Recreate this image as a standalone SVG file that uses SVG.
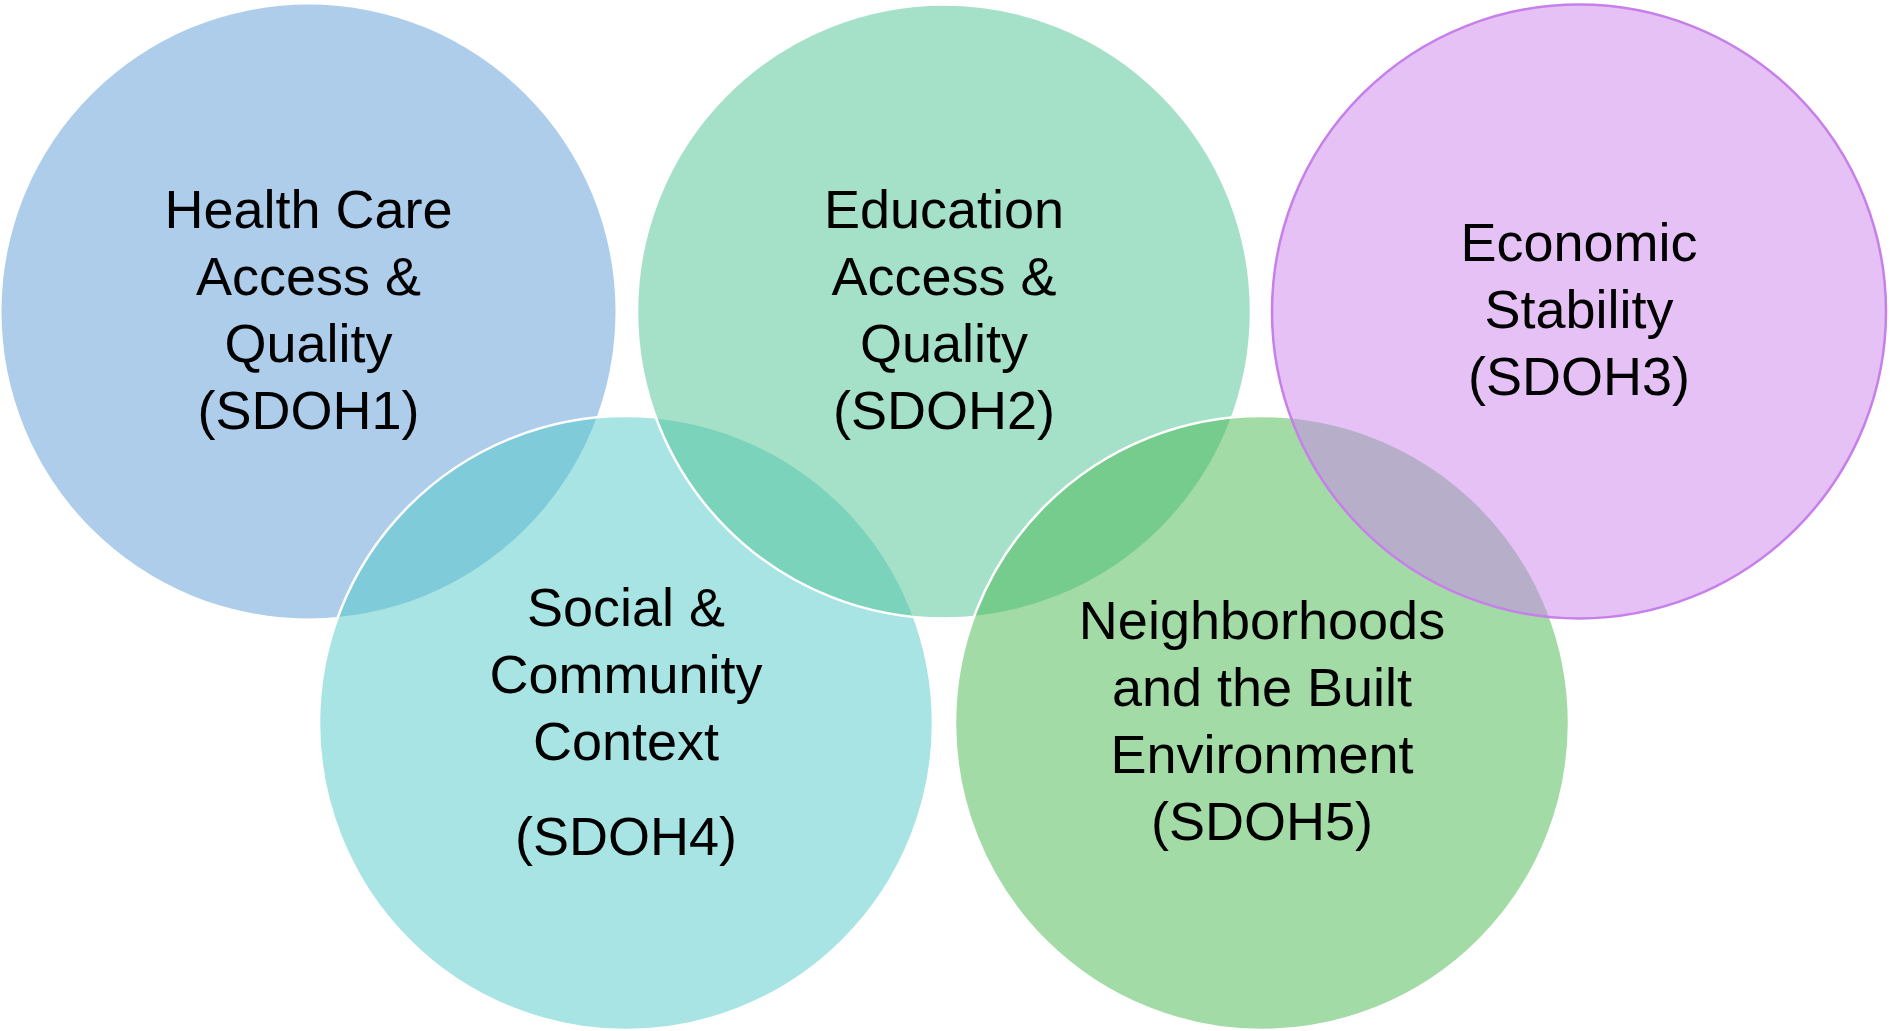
<svg xmlns="http://www.w3.org/2000/svg" width="1890" height="1031" viewBox="0 0 1890 1031">
<style>
.c{fill-opacity:0.5;stroke:#ffffff;stroke-width:2.5}
.c1{fill-opacity:0.5;stroke:none}
.c3{fill-opacity:0.5;stroke:#C77FEA;stroke-width:2.5}
.t{font-family:"Liberation Sans",Arial,sans-serif;font-size:54px;fill:#000000;text-anchor:middle}
</style>
<rect width="1890" height="1031" fill="#ffffff"/>
<g id="sdoh1">
<circle class="c1" cx="308.5" cy="311.5" r="307" fill="#5B9BD5"/>
<text class="t" x="308.5" y="228">Health Care</text>
<text class="t" x="308.5" y="295">Access &amp;</text>
<text class="t" x="308.5" y="362">Quality</text>
<text class="t" x="308.5" y="429">(SDOH1)</text>
</g>
<g id="sdoh4">
<circle class="c" cx="626" cy="723" r="307" fill="#51C9C7"/>
<text class="t" x="626" y="626">Social &amp;</text>
<text class="t" x="626" y="693">Community</text>
<text class="t" x="626" y="760">Context</text>
<text class="t" x="626" y="855">(SDOH4)</text>
</g>
<g id="sdoh2">
<circle class="c" cx="944" cy="311.5" r="307" fill="#4BC191"/>
<text class="t" x="944" y="228">Education</text>
<text class="t" x="944" y="295">Access &amp;</text>
<text class="t" x="944" y="362">Quality</text>
<text class="t" x="944" y="429">(SDOH2)</text>
</g>
<g id="sdoh5">
<circle class="c" cx="1262" cy="723" r="307" fill="#47B74F"/>
<text class="t" x="1262" y="639">Neighborhoods</text>
<text class="t" x="1262" y="706">and the Built</text>
<text class="t" x="1262" y="773">Environment</text>
<text class="t" x="1262" y="840">(SDOH5)</text>
</g>
<g id="sdoh3">
<circle class="c3" cx="1579" cy="311.5" r="307" fill="#CB83EB"/>
<text class="t" x="1579" y="261">Economic</text>
<text class="t" x="1579" y="328">Stability</text>
<text class="t" x="1579" y="395">(SDOH3)</text>
</g>
<g id="connectors"></g>
</svg>
